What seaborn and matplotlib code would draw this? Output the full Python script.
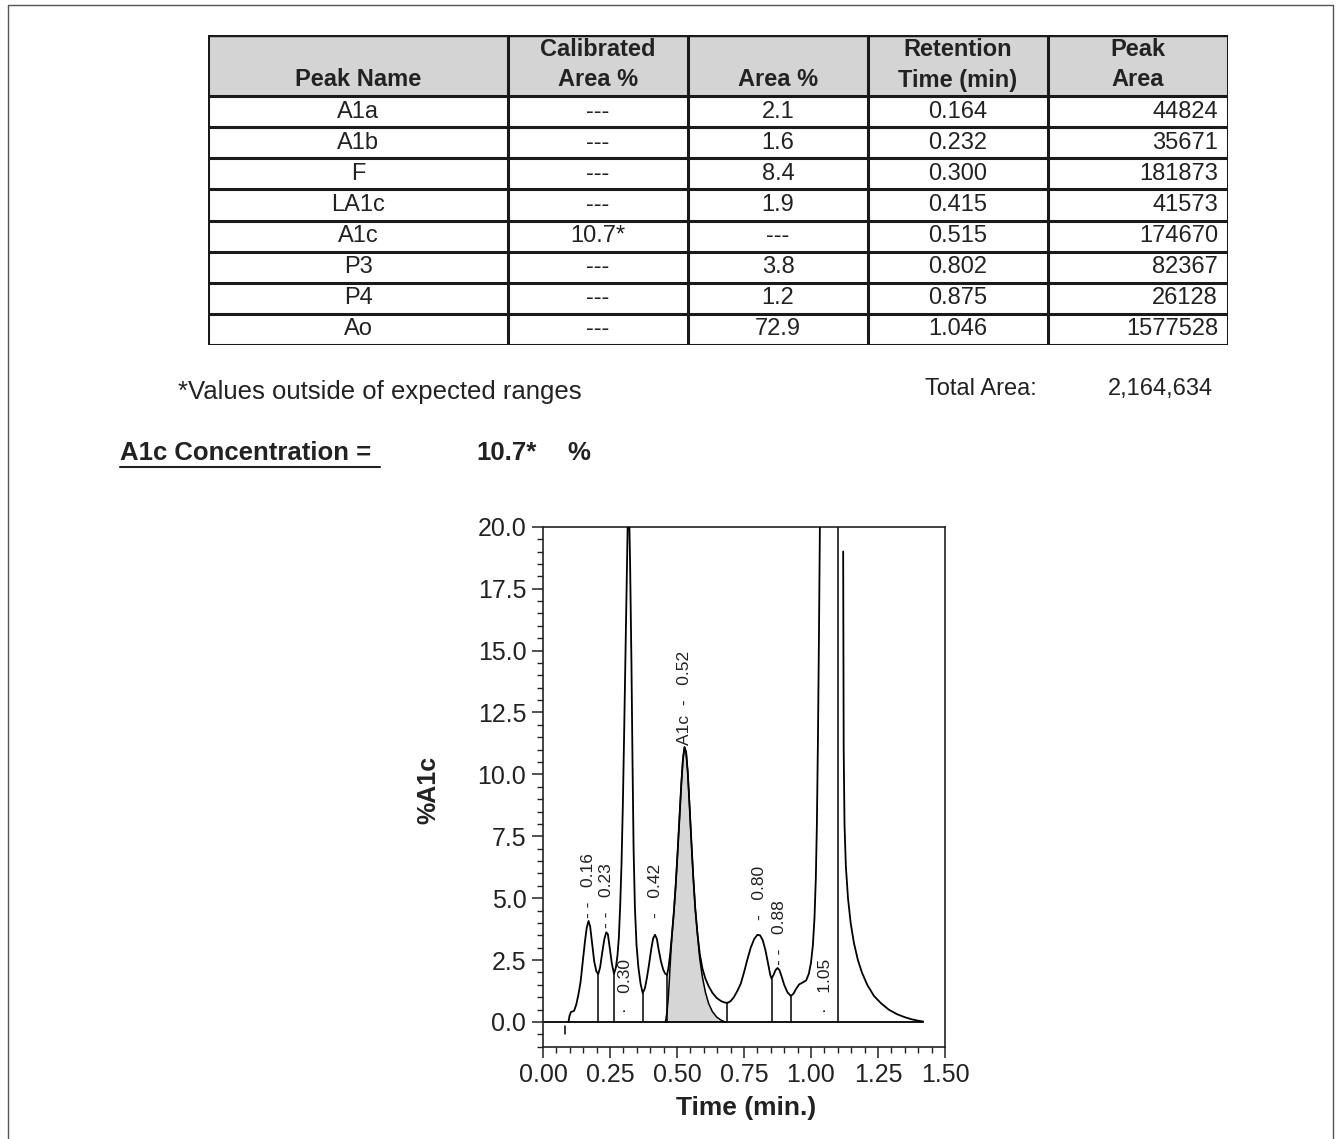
import numpy as np
import pandas as pd
import matplotlib
matplotlib.use("Agg")
import matplotlib.pyplot as plt
from matplotlib.lines import Line2D
from matplotlib.ticker import MultipleLocator, FormatStrFormatter
import seaborn as sns

# ---------------- peak table ----------------
peak_names = ["A1a", "A1b", "F", "LA1c", "A1c", "P3", "P4", "Ao"]
calibrated_area = [None, None, None, None, 10.7, None, None, None]
area_pct = [2.1, 1.6, 8.4, 1.9, None, 3.8, 1.2, 72.9]
retention_time = [0.164, 0.232, 0.300, 0.415, 0.515, 0.802, 0.875, 1.046]
peak_area = [44824, 35671, 181873, 41573, 174670, 82367, 26128, 1577528]
out_of_range = ["A1c"]
a1c_concentration = 10.7

header_line1 = ["", "Calibrated", "", "Retention", "Peak"]
header_line2 = ["Peak Name", "Area %", "Area %", "Time (min)", "Area"]

# ---------------- chromatogram ----------------
# part 1: injection up to the off-scale Ao peak
trace_time_1 = [0.095, 0.099, 0.104, 0.116, 0.124, 0.132, 0.140, 0.148, 0.156, 0.163,
                0.170, 0.176, 0.183, 0.191, 0.199, 0.206, 0.213, 0.221, 0.229, 0.236,
                0.242, 0.249, 0.257, 0.265, 0.272, 0.278, 0.283, 0.288, 0.293, 0.298,
                0.303, 0.308, 0.313, 0.319, 0.325, 0.330, 0.334, 0.338, 0.343, 0.349,
                0.356, 0.364, 0.372, 0.380, 0.388, 0.396, 0.404, 0.411, 0.418, 0.425,
                0.432, 0.440, 0.449, 0.456, 0.463, 0.469, 0.475, 0.481, 0.488, 0.495,
                0.502, 0.509, 0.516, 0.522, 0.528, 0.534, 0.540, 0.547, 0.554, 0.561,
                0.568, 0.576, 0.585, 0.595, 0.606, 0.618, 0.632, 0.648, 0.665, 0.680,
                0.690, 0.700, 0.712, 0.725, 0.738, 0.750, 0.762, 0.775, 0.788, 0.800,
                0.810, 0.820, 0.830, 0.840, 0.848, 0.853, 0.860, 0.868, 0.875, 0.882,
                0.890, 0.900, 0.912, 0.925, 0.935, 0.945, 0.956, 0.970, 0.982, 0.992,
                1.000, 1.007, 1.013, 1.018, 1.022, 1.026, 1.030, 1.034, 1.038]
trace_signal_1 = [0.00, 0.25, 0.40, 0.45, 0.70, 1.10, 1.60, 2.40, 3.20, 3.80,
                  4.08, 3.85, 3.20, 2.45, 2.05, 1.93, 2.20, 2.80, 3.35, 3.62,
                  3.55, 3.00, 2.35, 1.95, 2.20, 2.70, 3.40, 4.70, 6.40, 8.80,
                  11.80, 15.00, 18.20, 22.00, 18.50, 14.50, 10.50, 7.00, 4.60, 3.10,
                  2.20, 1.55, 1.17, 1.35, 1.80, 2.35, 2.95, 3.38, 3.52, 3.35,
                  2.90, 2.45, 2.10, 1.95, 1.90, 2.25, 2.80, 3.50, 4.40, 5.50,
                  6.80, 8.20, 9.60, 10.60, 11.10, 10.90, 10.10, 8.70, 7.20, 5.80,
                  4.60, 3.60, 2.75, 2.15, 1.75, 1.45, 1.18, 0.97, 0.84, 0.78,
                  0.78, 0.84, 1.00, 1.25, 1.55, 2.00, 2.50, 3.00, 3.35, 3.52,
                  3.50, 3.30, 2.90, 2.35, 1.90, 1.75, 1.90, 2.10, 2.18, 2.10,
                  1.85, 1.50, 1.20, 1.05, 1.15, 1.35, 1.52, 1.60, 1.68, 1.95,
                  2.40, 3.10, 4.20, 5.80, 8.00, 11.50, 16.00, 21.00, 26.00]
# part 2: falling side of Ao, coming back on scale
trace_time_2 = [1.120, 1.121, 1.122, 1.125, 1.130, 1.138, 1.148, 1.160, 1.175, 1.190,
                1.210, 1.235, 1.262, 1.290, 1.320, 1.348, 1.375, 1.400, 1.418]
trace_signal_2 = [19.0, 15.0, 11.0, 8.0, 6.3, 5.0, 4.0, 3.2, 2.5, 2.0,
                  1.50, 1.05, 0.75, 0.50, 0.32, 0.20, 0.11, 0.05, 0.02]

# deconvolved A1c peak (shaded)
a1c_time = [0.457, 0.462, 0.467, 0.471, 0.475, 0.481, 0.488, 0.495, 0.502, 0.509,
            0.516, 0.522, 0.528, 0.534, 0.540, 0.547, 0.554, 0.561, 0.568, 0.576,
            0.585, 0.595, 0.606, 0.618, 0.632, 0.648, 0.665, 0.680]
a1c_signal = [0.00, 0.35, 0.90, 1.60, 2.40, 3.50, 4.40, 5.50, 6.80, 8.20,
              9.60, 10.60, 11.10, 10.90, 10.10, 8.70, 7.20, 5.80, 4.60, 3.60,
              2.55, 1.80, 1.20, 0.75, 0.42, 0.20, 0.07, 0.00]

# integration baseline, peak drop lines, injection mark
baseline_time = [0.0, 1.418]
baseline_signal = [0.0, 0.0]
drop_time = [0.206, 0.265, 0.372, 0.463, 0.688, 0.853, 0.925, 1.100]
drop_top = [1.93, 1.95, 1.17, 1.90, 0.78, 1.75, 1.05, 20.0]
inject_time = [0.083, 0.083]
inject_signal = [-0.18, -0.48]

# peak annotations
label_time = [0.170, 0.238, 0.307, 0.418, 0.529, 0.808, 0.881, 1.053]
label_signal = [4.2, 3.8, 0.35, 4.2, 11.2, 4.1, 2.3, 0.35]
label_text = ["- -   0.16", "- -   0.23", "\u00b7   0.30", "-   0.42",
              "A1c  -   0.52", "-   0.80", "- -   0.88", "\u00b7   1.05"]


def fmt(v, pattern):
    return "---" if v is None else pattern.format(v)


def draw_table(fig):
    tab = fig.add_axes([208 / 1340, 1 - 345 / 1139, 1020 / 1340, 310 / 1139])
    tab.set_xlim(0, 1020)
    tab.set_ylim(310, 0)
    tab.axis("off")

    col_edges = [0, 300, 480, 660, 840, 1020]
    head_h = 61
    row_h = (310 - head_h) / len(peak_names)

    tab.fill_between([0, 1020], 0, head_h, color="#d4d4d4", lw=0)
    for x in col_edges:
        tab.plot([x, x], [0, 310], color="#1a1a1a", lw=2.2, solid_capstyle="butt")
    for i in range(len(peak_names) + 1):
        y = head_h + i * row_h
        tab.plot([0, 1020], [y, y], color="#1a1a1a", lw=2.2)
    tab.plot([0, 1020], [0, 0], color="#1a1a1a", lw=2.5)

    for j in range(5):
        cx = (col_edges[j] + col_edges[j + 1]) / 2
        if header_line1[j]:
            tab.text(cx, 14, header_line1[j], ha="center", va="center",
                     fontsize=17, fontweight="bold", color="#222222")
        tab.text(cx, 45, header_line2[j], ha="center", va="center",
                 fontsize=17, fontweight="bold", color="#222222")

    for i, name in enumerate(peak_names):
        cy = head_h + (i + 0.5) * row_h
        cal = fmt(calibrated_area[i], "{:.1f}")
        if name in out_of_range and calibrated_area[i] is not None:
            cal += "*"
        cells = [name, cal, fmt(area_pct[i], "{:.1f}"),
                 "{:.3f}".format(retention_time[i])]
        for j, s in enumerate(cells):
            cx = (col_edges[j] + col_edges[j + 1]) / 2
            tab.text(cx, cy, s, ha="center", va="center", fontsize=17, color="#222222")
        tab.text(col_edges[5] - 10, cy, str(peak_area[i]), ha="right", va="center",
                 fontsize=17, color="#222222")


def draw_chromatogram(fig):
    ax = fig.add_axes([543 / 1340, 1 - 1046.75 / 1139, 402 / 1340, 520 / 1139])

    ax.fill_between(a1c_time, a1c_signal, 0, color="#d6d6d6", lw=0, zorder=1)

    trace = pd.DataFrame({
        "time": trace_time_1 + trace_time_2,
        "signal": trace_signal_1 + trace_signal_2,
        "part": [1] * len(trace_time_1) + [2] * len(trace_time_2),
    })
    sns.lineplot(data=trace, x="time", y="signal", units="part", estimator=None,
                 sort=False, color="black", lw=1.3, ax=ax, zorder=3)
    fit = pd.DataFrame({"time": a1c_time, "signal": a1c_signal})
    sns.lineplot(data=fit, x="time", y="signal", estimator=None, sort=False,
                 color="black", lw=1.1, ax=ax, zorder=3)

    ax.plot(baseline_time, baseline_signal, color="black", lw=1.3, zorder=2)
    ax.vlines(drop_time, 0, drop_top, color="black", lw=1.1, zorder=2)
    ax.plot(inject_time, inject_signal, color="black", lw=1.1)

    for x, y, s in zip(label_time, label_signal, label_text):
        ax.text(x, y, s, rotation=90, ha="center", va="bottom", fontsize=12.5,
                color="#222222")

    ax.set_xlim(0, 1.5)
    ax.set_ylim(-1, 20)
    ax.xaxis.set_major_locator(MultipleLocator(0.25))
    ax.xaxis.set_minor_locator(MultipleLocator(0.05))
    ax.yaxis.set_major_locator(MultipleLocator(2.5))
    ax.yaxis.set_minor_locator(MultipleLocator(0.5))
    ax.xaxis.set_major_formatter(FormatStrFormatter("%.2f"))
    ax.yaxis.set_major_formatter(FormatStrFormatter("%.1f"))
    ax.set_yticks([v for v in np.arange(0, 20.1, 2.5)])
    ax.tick_params(which="major", direction="out", length=8, width=1.1,
                   labelsize=18, colors="#222222", pad=4)
    ax.tick_params(which="minor", direction="out", length=4.5, width=1.0,
                   colors="#222222")
    for sp in ax.spines.values():
        sp.set_visible(True)
        sp.set_linewidth(1.2)
        sp.set_color("#222222")

    ax.set_xlabel("Time (min.)", fontsize=19, fontweight="bold", color="#222222")
    ax.set_ylabel("%A1c", fontsize=18, fontweight="bold", color="#222222")
    ax.xaxis.set_label_coords(0.505, -0.095)
    ax.yaxis.set_label_coords(-0.256, 0.494)
    return ax


def main():
    sns.set_style("ticks")
    plt.rcParams["font.family"] = ["Liberation Sans", "DejaVu Sans"]

    fig = plt.figure(figsize=(13.4, 11.39), dpi=100)
    fig.patch.set_facecolor("white")

    # page frame of the scanned report
    fig.add_artist(Line2D([8 / 1340, 8 / 1340], [0, 1 - 5 / 1139], color="#555555", lw=1))
    fig.add_artist(Line2D([8 / 1340, 1333 / 1340], [1 - 5 / 1139, 1 - 5 / 1139],
                          color="#555555", lw=1))
    fig.add_artist(Line2D([1333 / 1340, 1333 / 1340], [0, 1 - 5 / 1139], color="#555555", lw=1))

    draw_table(fig)

    total_area = sum(peak_area)
    fig.text(178 / 1340, 1 - 392 / 1139, "*Values outside of expected ranges",
             ha="left", va="center", fontsize=18.5, color="#222222")
    fig.text(925 / 1340, 1 - 389 / 1139, "Total Area:", ha="left", va="center",
             fontsize=17, color="#222222")
    fig.text(1213 / 1340, 1 - 389 / 1139, f"{total_area:,}", ha="right", va="center",
             fontsize=17, color="#222222")

    fig.text(120 / 1340, 1 - 453 / 1139, "A1c Concentration =", ha="left", va="center",
             fontsize=18.5, fontweight="bold", color="#222222")
    fig.add_artist(Line2D([120 / 1340, 380 / 1340], [1 - 467 / 1139, 1 - 467 / 1139],
                          color="#222222", lw=1.5))
    fig.text(476 / 1340, 1 - 453 / 1139, f"{a1c_concentration}*", ha="left", va="center",
             fontsize=18.5, fontweight="bold", color="#222222")
    fig.text(567 / 1340, 1 - 453 / 1139, "%", ha="left", va="center",
             fontsize=18.5, fontweight="bold", color="#222222")

    draw_chromatogram(fig)

    fig.savefig("out.png", dpi=100, facecolor="white")
    plt.close(fig)


if __name__ == "__main__":
    main()
